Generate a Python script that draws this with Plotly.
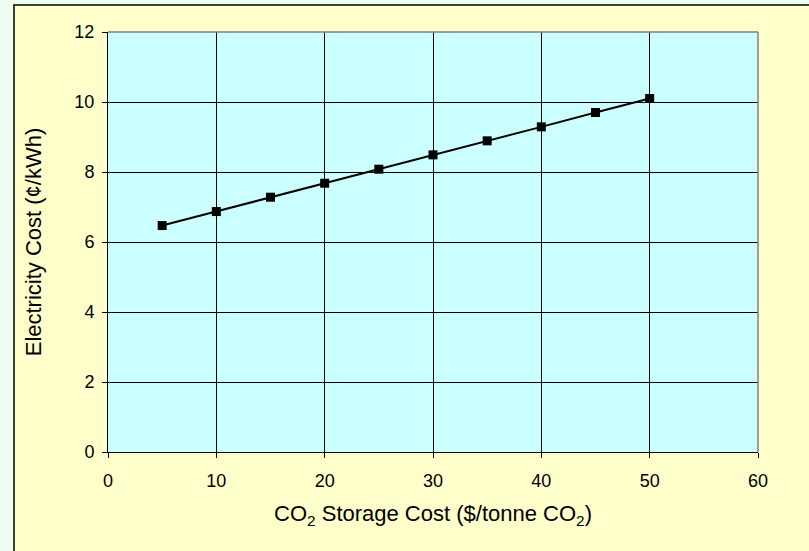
import plotly.graph_objs as go

# CO2 storage cost ($/tonne) vs electricity cost (cents/kWh)
storage_cost = [5, 10, 15, 20, 25, 30, 35, 40, 45, 50]
electricity_cost = [6.47, 6.87, 7.28, 7.68, 8.08, 8.49, 8.89, 9.29, 9.70, 10.10]

x_ticks = [0, 10, 20, 30, 40, 50, 60]
y_ticks = [0, 2, 4, 6, 8, 10, 12]

FONT = "Liberation Sans, Arial, sans-serif"

fig = go.Figure()
fig.add_trace(go.Scatter(
    x=storage_cost, y=electricity_cost,
    mode='lines+markers',
    line=dict(color='black', width=2),
    marker=dict(symbol='square', size=9, color='black'),
    showlegend=False
))

fig.update_layout(
    width=809, height=551,
    margin=dict(l=108, r=51, t=32, b=99),
    paper_bgcolor='#EEFCF1',
    plot_bgcolor='#CCFFFF',
    font=dict(family=FONT, color='black', size=18),
    xaxis=dict(
        range=[0, 60], tickvals=x_ticks, showgrid=True, gridcolor='black', gridwidth=1,
        showline=True, linecolor='black', linewidth=1, zeroline=False,
        ticks='outside', ticklen=5, tickcolor='black', ticklabelstandoff=7,
        tickfont=dict(size=18),
        title=dict(text='CO<sub>2</sub> Storage Cost ($/tonne CO<sub>2</sub>)',
                   font=dict(size=22), standoff=16),
    ),
    yaxis=dict(
        range=[0, 12], tickvals=y_ticks, showgrid=True, gridcolor='black', gridwidth=1,
        showline=True, linecolor='black', linewidth=1, zeroline=False,
        ticks='outside', ticklen=5, tickcolor='black', ticklabelstandoff=4,
        tickfont=dict(size=18),
        title=dict(text='Electricity Cost (¢/kWh)', font=dict(size=22), standoff=26),
    ),
    shapes=[
        # chart area box
        dict(type='rect', xref='paper', yref='paper', layer='below',
             x0=-94 / 650, x1=1.09, y0=-0.26, y1=447 / 420,
             fillcolor='#FFFFCC', line=dict(color='black', width=1.5)),
        # plot area fill (the box above hides plot_bgcolor)
        dict(type='rect', xref='paper', yref='paper', layer='below',
             x0=0, x1=1, y0=0, y1=1, fillcolor='#CCFFFF', line=dict(width=0)),
        # grey top / right edges of plot area
        dict(type='line', xref='paper', yref='paper', x0=0, x1=1, y0=1, y1=1,
             line=dict(color='#808080', width=1.5)),
        dict(type='line', xref='paper', yref='paper', x0=1, x1=1, y0=0, y1=1,
             line=dict(color='#808080', width=1.5)),
    ],
)

fig.write_html("out.html", config={'displayModeBar': False},
               post_script="document.body.style.margin='0px';")
